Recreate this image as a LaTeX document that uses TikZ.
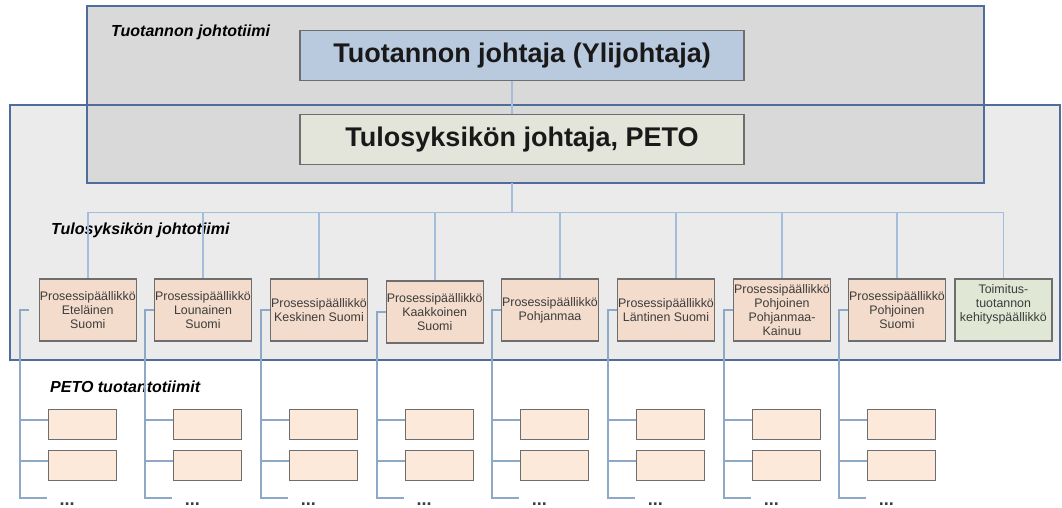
\documentclass[tikz,border=0pt]{standalone}
\usepackage{fontspec}
\setmainfont{Liberation Sans}
\usetikzlibrary{positioning,calc,backgrounds}
\definecolor{teamline}{HTML}{4E6D9A}
\definecolor{topfill}{HTML}{D9D9D9}
\definecolor{unitfill}{HTML}{EBEBEB}
\definecolor{chieffill}{HTML}{B9C9DE}
\definecolor{petofill}{HTML}{E3E5DA}
\definecolor{procfill}{HTML}{F3DCCB}
\definecolor{devfill}{HTML}{E0E7D4}
\definecolor{teamfill}{HTML}{FDE9D9}
\definecolor{linkblue}{HTML}{A4BDDC}
\definecolor{bracketblue}{HTML}{8EA8C8}
\definecolor{textgray}{HTML}{3C3C3C}
\definecolor{boxline}{HTML}{6E6E6E}
\begin{document}
\begin{tikzpicture}[
        x=1pt, y=-1pt,
        teamframe/.style={draw=teamline, line width=2pt, inner sep=0pt, outer sep=0pt},
        headbox/.style={draw=boxline, line width=1.2pt, minimum width=444pt, minimum height=50pt,
            font=\bfseries\fontsize{27}{30}\selectfont, text=black!90},
        procbox/.style={draw=boxline, line width=1.2pt, fill=procfill, minimum width=97pt, minimum height=62pt,
            inner sep=0pt, align=center, text=textgray, font=\fontsize{12.4}{14.2}\selectfont},
        teambox/.style={draw=boxline, line width=1.2pt, fill=teamfill, minimum width=68pt, minimum height=30pt, inner sep=0pt},
        teamlabel/.style={anchor=base west, inner sep=0pt, font=\bfseries\itshape\fontsize{16}{18}\selectfont},
        moreteams/.style={inner sep=0pt, font=\bfseries\fontsize{18}{20}\selectfont, text=textgray},
        link/.style={draw=linkblue, line width=1.6pt},
        bracket/.style={draw=bracketblue, line width=2pt}
    ]
    \useasboundingbox (0,0) rectangle (1062,508);
    \node[teamframe, minimum width=1050pt, minimum height=254.7pt] (unitteam) at (535,232.65) {};
    \node[teamframe, minimum width=896.6pt, minimum height=176.7pt] (prodteam) at (535.7,94.35) {};
    \begin{scope}[on background layer]
        \fill[unitfill] (unitteam.south west) rectangle (unitteam.north east);
        \fill[topfill] (prodteam.south west) rectangle (prodteam.north east);
    \end{scope}

    \node[teamlabel] (prodlabel) at (111,37) {Tuotannon johtotiimi};
    \node[teamlabel] (unitlabel) at (51,234.5) {Tulosyksikön johtotiimi};
    \node[teamlabel] (petolabel) at (50,392) {PETO tuotantotiimit};

    \node[headbox, fill=chieffill] (chief) at (522,55.2) {Tuotannon johtaja (Ylijohtaja)};
    \node[headbox, fill=petofill] (peto) at (522,139.4) {Tulosyksikön johtaja, PETO};

    \node[procbox] (p1) at (87.8,310) {Prosessipäällikkö\\Eteläinen\\Suomi};
    \node[procbox] (p2) at (203,310) {Prosessipäällikkö\\Lounainen\\Suomi};
    \node[procbox] (p3) at (319,310) {Prosessipäällikkö\\Keskinen Suomi};
    \node[procbox] (p4) at (434.7,312) {Prosessipäällikkö\\Kaakkoinen\\Suomi};
    \node[procbox] (p5) at (550,310) {Prosessipäällikkö\\Pohjanmaa};
    \node[procbox] (p6) at (666,310) {Prosessipäällikkö\\Läntinen Suomi};
    \node[procbox] (p7) at (782,310) {Prosessipäällikkö\\Pohjoinen\\Pohjanmaa-\\Kainuu};
    \node[procbox] (p8) at (897,310) {Prosessipäällikkö\\Pohjoinen\\Suomi};
    \node[procbox, fill=devfill] (p9) at (1003.4,310) {Toimitus-\\tuotannon\\kehityspäällikkö\\\mbox{}};

    \coordinate (hub) at (512,212.3);
    \coordinate (floor) at (0,498);
    \draw[link] (chief.south -| hub) -- (peto.north -| hub);
    \draw[link] (prodteam.south -| hub) -- (hub);
    \foreach \i/\dx in {1/0,2/0,3/0,4/0,5/10,6/10,7/0,8/0,9/0}
        \draw[link] (hub) -| ([xshift=\dx pt]p\i.north);

    \foreach \i/\gap in {1/19,2/9,3/9,4/9,5/9,6/9,7/9,8/9} {
        \path (p\i.west) ++(-\gap,0) coordinate (v\i);
        \node[teambox, anchor=north west] (ta\i) at ($(v\i |- floor)+(28,-89)$) {};
        \node[teambox, below=10pt of ta\i] (tb\i) {};
        \draw[bracket] ([xshift={(9-\gap)*1pt}]p\i.west) -- (v\i) -- (v\i |- floor) -- ++(27.5,0) coordinate (e\i);
        \draw[bracket] ([yshift=5pt]ta\i.west) -- +(-28,0);
        \draw[bracket] ([yshift=5pt]tb\i.west) -- +(-28,0);
        \node[moreteams, anchor=base] (d\i) at ($(e\i)+(20,7)$) {...};
    }
\end{tikzpicture}
\end{document}
